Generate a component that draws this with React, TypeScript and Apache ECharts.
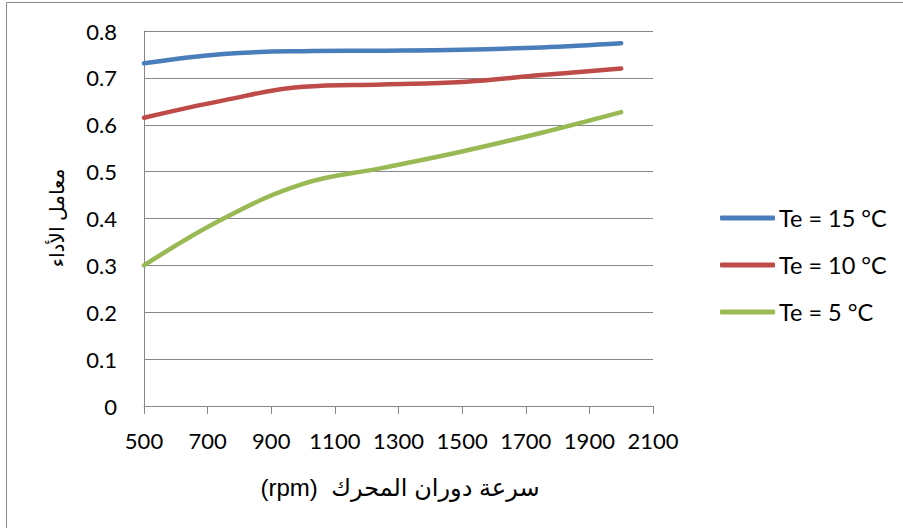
import React, { useEffect, useRef } from "react";
import * as echarts from "echarts";

// Engine speed (rpm) at each sample
const speeds = [500, 750, 1000, 1250, 1500, 1750, 2000];

// Coefficient of performance at each evaporating temperature
const copTe15 = [0.731, 0.751, 0.757, 0.758, 0.76, 0.765, 0.774];
const copTe10 = [0.615, 0.652, 0.681, 0.686, 0.691, 0.706, 0.72];
const copTe5 = [0.3, 0.4, 0.474, 0.508, 0.543, 0.583, 0.627];

const seriesNames = ["Te = 15 °C", "Te = 10 °C", "Te = 5 °C"];
const seriesColors = ["#4A7EBB", "#BE4B48", "#98B954"];

const xTitle = "(rpm)  سرعة دوران المحرك";
const yTitle = "معامل الأداء";

const LATIN = "Lato, 'Open Sans', sans-serif";
const ARABIC = "'Liberation Sans', 'DejaVu Sans', sans-serif";
const GRID = "#868686";

const pairs = (ys: number[]) => speeds.map((x, i) => [x, ys[i]]);

export default function App() {
  const ref = useRef<HTMLDivElement>(null);

  useEffect(() => {
    if (!ref.current) return;
    const chart = echarts.init(ref.current, undefined, { renderer: "svg" });
    const data = [copTe15, copTe10, copTe5];

    chart.setOption({
      animation: false,
      backgroundColor: "#ffffff",
      grid: { left: 144, top: 31, right: 250, bottom: 122 },
      xAxis: {
        type: "value",
        min: 500,
        max: 2100,
        interval: 200,
        axisLine: { show: true, lineStyle: { color: GRID, width: 1 } },
        axisTick: { show: true, length: 8, lineStyle: { color: GRID, width: 1 } },
        splitLine: { show: false },
        axisLabel: {
          color: "#000",
          fontFamily: LATIN,
          fontSize: 22,
          margin: 23,
          formatter: (v: number) => String(v),
        },
      },
      yAxis: {
        type: "value",
        min: 0,
        max: 0.8,
        interval: 0.1,
        axisLine: { show: true, lineStyle: { color: GRID, width: 1 } },
        axisTick: { show: false },
        splitLine: { show: true, lineStyle: { color: GRID, width: 1 } },
        axisLabel: {
          color: "#000",
          fontFamily: LATIN,
          fontSize: 22,
          margin: 27,
          formatter: (v: number) => String(Math.round(v * 10) / 10),
        },
      },
      legend: {
        orient: "vertical",
        left: 720,
        top: 205,
        padding: 0,
        icon: "roundRect",
        itemWidth: 55,
        itemHeight: 5,
        itemGap: 21,
        textStyle: { color: "#000", fontFamily: LATIN, fontSize: 23.5, lineHeight: 26, padding: [0, 0, 0, -1] },
        data: seriesNames,
      },
      series: seriesNames.map((name, i) => ({
        name,
        type: "line",
        data: pairs(data[i]),
        smooth: 0.4,
        showSymbol: false,
        symbol: "none",
        lineStyle: { color: seriesColors[i], width: 4.5, cap: "round", join: "round" },
        itemStyle: { color: seriesColors[i] },
      })),
      graphic: [
        {
          type: "rect",
          shape: { x: 6.5, y: 2.5, width: 1200, height: 1200 },
          style: { fill: "none", stroke: GRID, lineWidth: 1 },
          silent: true,
        },
        {
          type: "text",
          x: 400,
          y: 487,
          style: {
            text: xTitle,
            fontFamily: ARABIC,
            fontSize: 24,
            fill: "#000",
            align: "center",
            verticalAlign: "middle",
          },
        },
        {
          type: "text",
          x: 57,
          y: 218,
          rotation: Math.PI / 2,
          style: {
            text: yTitle,
            fontFamily: ARABIC,
            fontSize: 20,
            fill: "#000",
            align: "center",
            verticalAlign: "middle",
          },
        },
      ],
    });

    return () => chart.dispose();
  }, []);

  return (
    <div
      ref={ref}
      style={{ position: "fixed", left: 0, top: 0, width: 903, height: 528 }}
    />
  );
}
